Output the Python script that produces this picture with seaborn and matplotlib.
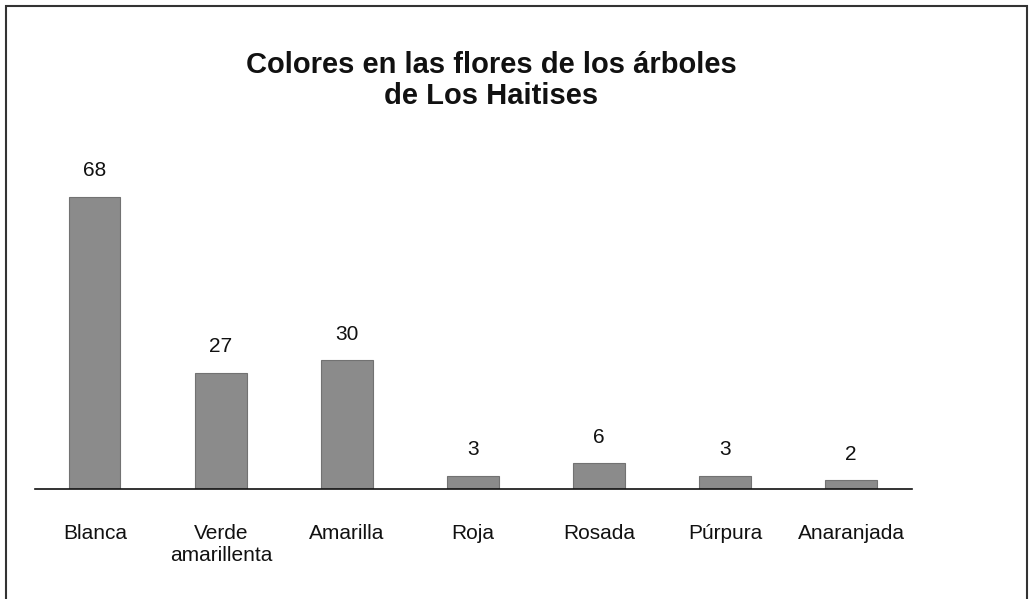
import matplotlib
matplotlib.use("Agg")
import matplotlib.pyplot as plt
import seaborn as sns
import pandas as pd
from matplotlib.patches import Rectangle

categories = ["Blanca", "Verde\namarillenta", "Amarilla", "Roja", "Rosada", "Púrpura", "Anaranjada"]
values = [68, 27, 30, 3, 6, 3, 2]

sns.set_theme(style="white")
plt.rcParams["font.family"] = ["Liberation Sans", "DejaVu Sans"]

df = pd.DataFrame({"color": categories, "n": values})

W, H = 1030, 599
fig = plt.figure(figsize=(W / 100, H / 100), dpi=100)
ax = fig.add_axes([35 / W, (H - 489) / H, (912 - 35) / W, 309 / H])

sns.barplot(data=df, x="color", y="n", ax=ax, color="#8b8b8b", width=0.405,
            saturation=1, edgecolor="#727272", linewidth=0.8)

ax.set_xlim(-0.476, 6.484)
ax.set_ylim(0, 72)
for s in ["top", "right", "left"]:
    ax.spines[s].set_visible(False)
ax.spines["bottom"].set_color("#111111")
ax.spines["bottom"].set_linewidth(1.2)
ax.set_yticks([])
ax.set_xlabel("")
ax.set_ylabel("")
ax.tick_params(axis="x", length=0, pad=25, labelsize=15, labelcolor="#111111")
for lbl in ax.get_xticklabels():
    lbl.set_verticalalignment("top")
    lbl.set_linespacing(1.25)

for i, v in enumerate(values):
    ax.annotate(str(v), (i, v), xytext=(0, 12), textcoords="offset points",
                ha="center", va="bottom", fontsize=15, color="#111111")

fig.text(491 / W, 1 - 80.5 / H, "Colores en las flores de los árboles\nde Los Haitises",
         ha="center", va="center", fontsize=21, fontweight="bold",
         color="#111111", linespacing=1.18)

fig.patches.append(Rectangle((6 / W, -0.01), (1027 - 6) / W, 1.01 - 6 / H,
                             transform=fig.transFigure, fill=False,
                             edgecolor="#333333", linewidth=1.5))

fig.savefig("out.png", dpi=100)
